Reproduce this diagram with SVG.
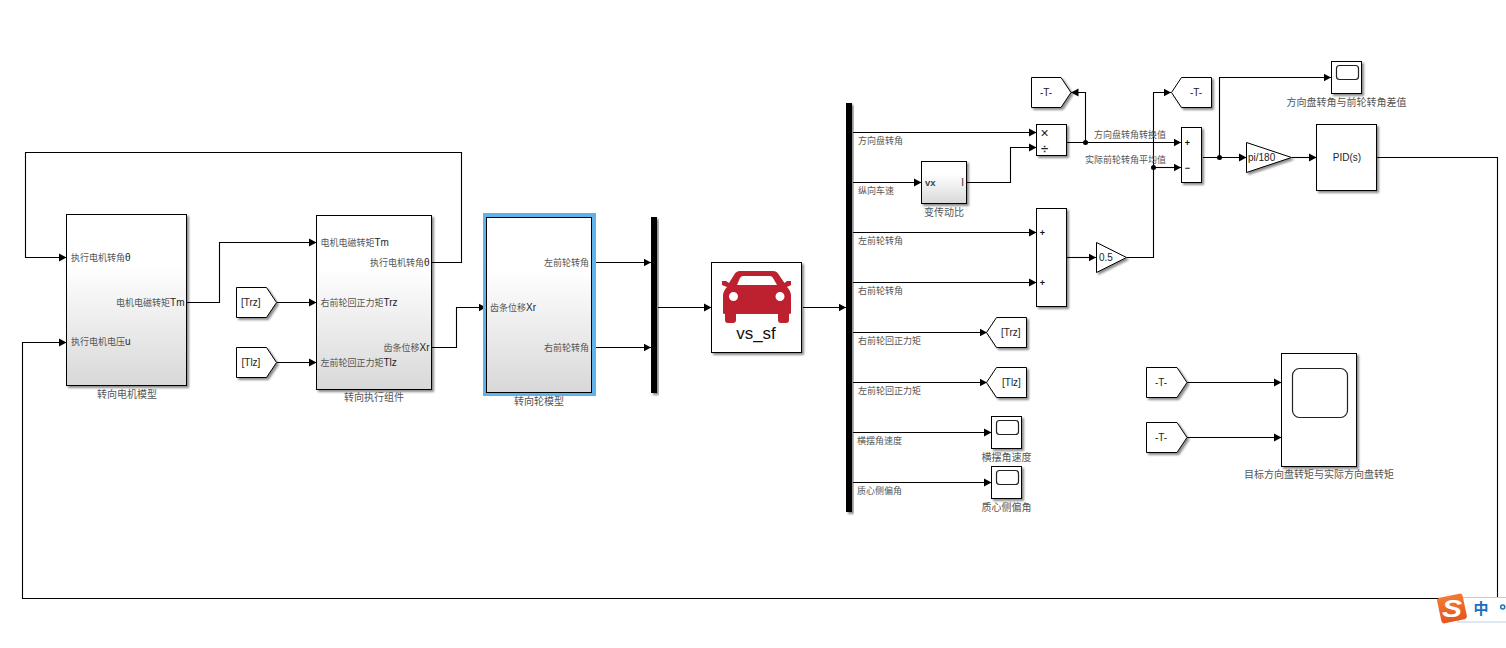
<svg xmlns="http://www.w3.org/2000/svg" width="1506" height="648" viewBox="0 0 1506 648">
<style>
text{font-family:"Liberation Sans","Noto Sans CJK SC",sans-serif;font-size:10px;fill:#555}
.p{font-size:9px}
.p tspan{fill:#222;font-size:10px}
.b{fill:#fff;stroke:#000;stroke-width:1;filter:url(#sh)}
.g{fill:url(#grad);stroke:#000;stroke-width:1;filter:url(#sh)}
.bar{fill:#000;filter:url(#sh)}
.w{fill:#222;font-size:10px}
.s{fill:#111;font-size:9px;font-weight:bold;text-anchor:middle}
.m{text-anchor:middle}
.e{text-anchor:end}
.in{fill:none;stroke:#222;stroke-width:1.2}
#wires path{fill:none;stroke:#000;stroke-width:1.1}
#wires path.a{marker-end:url(#ar)}
#wires circle{fill:#000}
</style>
<defs>
<linearGradient id="grad" x1="0" y1="0" x2="0" y2="1"><stop offset="0" stop-color="#fff"/><stop offset=".3" stop-color="#fff"/><stop offset="1" stop-color="#d8d8d8"/></linearGradient>
<linearGradient id="so" x1="0" y1="0" x2="0" y2="1"><stop offset="0" stop-color="#f37a35"/><stop offset="1" stop-color="#e4561f"/></linearGradient>
<filter id="sh" x="-20%" y="-20%" width="140%" height="140%"><feDropShadow dx="2" dy="2" stdDeviation="1.2" flood-color="#000" flood-opacity=".45"/></filter>
<marker id="ar" markerUnits="userSpaceOnUse" markerWidth="9" markerHeight="9" refX="7.500" refY="4.500" orient="auto"><path d="M0 .5L7.500 4.500L0 8.500Z" fill="#000"/></marker>
</defs>
<rect width="1506" height="648" fill="#fff"/>
<g id="wires">
<path class="a" d="M432 262.500H461.500V152.500H25.500V257.500H66.500"/>
<path class="a" d="M187 302.500H219.500V242.500H316.500"/>
<path class="a" d="M277 302.500H316.500"/>
<path class="a" d="M277 362.500H316.500"/>
<path class="a" d="M432 347.500H456.500V307.500H486"/>
<path class="a" d="M592 262.500H651"/>
<path class="a" d="M592 347.500H651"/>
<path class="a" d="M658 307.500H711.500"/>
<path class="a" d="M803 307.500H846"/>
<path class="a" d="M853 132.500H1036.500"/>
<path class="a" d="M853 182.500H921.500"/>
<path class="a" d="M967 182.500H1010.500V147.500H1036.500"/>
<path class="a" d="M853 232.500H1036.500"/>
<path class="a" d="M853 282.500H1036.500"/>
<path class="a" d="M1067 257.500H1096"/>
<path class="a" d="M1127 257.500H1153.500V92.500H1171"/>
<path class="a" d="M1153.500 167.500H1181"/>
<path class="a" d="M1067 142.500H1181"/>
<path class="a" d="M1085.500 142.500V92.500H1071"/>
<path class="a" d="M1203 157.500H1246.500"/>
<path class="a" d="M1219.500 157.500V77.500H1331"/>
<path class="a" d="M1292 157.500H1316.500"/>
<path class="a" d="M853 332.500H987"/>
<path class="a" d="M853 382.500H987"/>
<path class="a" d="M853 432.500H991.500"/>
<path class="a" d="M853 482.500H991.500"/>
<path class="a" d="M1187 382.500H1281.500"/>
<path class="a" d="M1187 437.500H1281.500"/>
<path class="a" d="M1377 157.500H1497.500V598.500H22.500V342.500H66.500"/>
<circle cx="1085.500" cy="142.500" r="2.500"/>
<circle cx="1153.500" cy="167.500" r="2.500"/>
<circle cx="1219.500" cy="157.500" r="2.500"/>
</g>
<g id="motor"><rect class="g" x="66.500" y="214.500" width="120" height="171"/>
<text class="p" x="71" y="260.500">执行电机转角<tspan>θ</tspan></text><text class="p e" x="184.500" y="305.500">电机电磁转矩<tspan>Tm</tspan></text><text class="p" x="71" y="344.500">执行电机电压<tspan>u</tspan></text><text x="127" y="397.500" class="m">转向电机模型</text></g>
<g id="actuator"><rect class="g" x="316.500" y="215.500" width="115" height="174"/>
<text class="p" x="320.500" y="245.500">电机电磁转矩<tspan>Tm</tspan></text><text class="p e" x="429.500" y="265.500">执行电机转角<tspan>θ</tspan></text><text class="p" x="320.500" y="305.500">右前轮回正力矩<tspan>Trz</tspan></text><text class="p e" x="429.500" y="350.500">齿条位移<tspan>Xr</tspan></text><text class="p" x="320.500" y="365.500">左前轮回正力矩<tspan>Tlz</tspan></text><text x="374" y="400.500" class="m">转向执行组件</text></g>
<g id="from-trz"><path class="b" d="M236.500 287.500H266.500L276.500 302.500L266.500 317.500H236.500Z"/><text class="w" x="241" y="306">[Trz]</text></g>
<g id="from-tlz"><path class="b" d="M236.500 347.500H266.500L276.500 362.500L266.500 377.500H236.500Z"/><text class="w" x="241.500" y="366">[Tlz]</text></g>
<g id="wheel"><rect x="483" y="213" width="113" height="183" fill="#5fb2ea"/><rect class="g" x="486.500" y="217.500" width="105" height="175" style="filter:none"/>
<text class="p e" x="589" y="265.500">左前轮转角</text><text class="p" x="490" y="310.500">齿条位移<tspan>Xr</tspan></text><text class="p e" x="589" y="350.500">右前轮转角</text><text x="539" y="404.500" class="m">转向轮模型</text></g>
<g id="mux"><rect class="bar" x="651" y="217" width="6" height="176"/></g>
<g id="vehicle"><rect class="b" x="711.500" y="262.500" width="90" height="90"/>
<path fill="#bd2130" fill-rule="evenodd" d="M740 271H773Q777 271 779 275L784.500 283L787 281H791V285L787 287Q791 291 791 296V313Q791 314 789 314V320Q789 323 786 323H781Q778 323 778 320V314H736V320Q736 323 733 323H728Q725 323 725 320V314Q723 314 723 313V296Q723 291 727 287L722 285V281H726L729 283L734 275Q736 271 740 271ZM743 276Q741 276 740 278L737 285H777L773 278Q772 276 770 276ZM733.500 292A4.500 4.500 0 1 0 733.500 301A4.500 4.500 0 1 0 733.500 292ZM780 292A4.500 4.500 0 1 0 780 301A4.500 4.500 0 1 0 780 292Z"/>
<text x="756" y="339" class="m" style="font-size:17px;fill:#111">vs_sf</text></g>
<g id="demux"><rect class="bar" x="846" y="103" width="6" height="409"/>
<text class="p" x="858" y="143.500">方向盘转角</text><text class="p" x="858" y="193.500">纵向车速</text><text class="p" x="858" y="243.500">左前轮转角</text><text class="p" x="858" y="293.500">右前轮转角</text><text class="p" x="858" y="343.500">右前轮回正力矩</text><text class="p" x="858" y="393.500">左前轮回正力矩</text><text class="p" x="857" y="443.500">横摆角速度</text><text class="p" x="857" y="493.500">质心侧偏角</text>
<text class="p" x="1094" y="137.500">方向盘转角转换值</text><text class="p" x="1085" y="162.500">实际前轮转角平均值</text></g>
<g id="goto-top"><path class="b" d="M1031.500 77.500H1061L1071 92.500L1061 107.500H1031.500Z"/><text class="w m" x="1046" y="96">-T-</text></g>
<g id="product"><rect class="b" x="1036.500" y="124.500" width="30" height="31"/><text class="w m" x="1044.500" y="137.500" style="font-size:14px">×</text><text class="w m" x="1044.500" y="152.500" style="font-size:13px;font-weight:bold">÷</text></g>
<g id="ratio"><rect class="g" x="921.500" y="161.500" width="45" height="42"/><text class="w" x="925" y="185.500" style="font-size:9.500px;font-weight:bold;fill:#444">vx</text><text class="w" x="961.500" y="185.500">l</text><text x="944" y="215.500" class="m">变传动比</text></g>
<g id="sum-front"><rect class="b" x="1036.500" y="208.500" width="30" height="98"/><text class="s" x="1042.500" y="235.500">+</text><text class="s" x="1042.500" y="285.500">+</text></g>
<g id="gain-half"><path class="b" d="M1096.500 242.500L1126.500 257.500L1096.500 272.500Z"/><text class="w" x="1099" y="261">0.5</text></g>
<g id="from-top"><path class="b" d="M1171.500 92.500L1181.500 77.500H1211.500V107.500H1181.500Z"/><text class="w m" x="1196" y="96">-T-</text></g>
<g id="sum-diff"><rect class="b" x="1181.500" y="127.500" width="20" height="55"/><text class="s" x="1187.500" y="145.500">+</text><text class="s" x="1187.500" y="170.500">−</text></g>
<g id="scope-diff"><rect class="b" x="1331.500" y="61.500" width="30" height="32"/><rect class="in" x="1336.500" y="65.500" width="22" height="14" rx="3"/><text x="1346.500" y="105.500" class="m">方向盘转角与前轮转角差值</text></g>
<g id="gain-deg"><path class="b" d="M1246.500 142.500L1291.500 157.500L1246.500 172.500Z"/><text class="w" x="1248" y="161">pi/180</text></g>
<g id="pid"><rect class="b" x="1316.500" y="124.500" width="60" height="66"/><text class="w m" x="1347" y="161">PID(s)</text></g>
<g id="goto-trz"><path class="b" d="M986.500 332.500L996.500 317.500H1026.500V347.500H996.500Z"/><text class="w" x="1001" y="336">[Trz]</text></g>
<g id="goto-tlz"><path class="b" d="M986.500 382.500L996.500 367.500H1026.500V397.500H996.500Z"/><text class="w" x="1002" y="386">[Tlz]</text></g>
<g id="scope-yaw"><rect class="b" x="991.500" y="416.500" width="30" height="32"/><rect class="in" x="996.500" y="420.500" width="22" height="14" rx="3"/><text x="1006.500" y="460.500" class="m">横摆角速度</text></g>
<g id="scope-slip"><rect class="b" x="991.500" y="466.500" width="30" height="32"/><rect class="in" x="996.500" y="470.500" width="22" height="14" rx="3"/><text x="1006.500" y="510.500" class="m">质心侧偏角</text></g>
<g id="from-t1"><path class="b" d="M1146.500 367.500H1177L1187 382.500L1177 397.500H1146.500Z"/><text class="w m" x="1161" y="386">-T-</text></g>
<g id="from-t2"><path class="b" d="M1146.500 422.500H1177L1187 437.500L1177 452.500H1146.500Z"/><text class="w m" x="1161" y="441">-T-</text></g>
<g id="scope-torque"><rect class="b" x="1281.500" y="353.500" width="75" height="113"/><rect class="in" x="1292.500" y="368.500" width="55" height="49" rx="7"/><text x="1319" y="477.500" class="m">目标方向盘转矩与实际方向盘转矩</text></g>
<g id="ime"><rect x="1458" y="597.500" width="50" height="24.500" fill="#fff" stroke="#b9d0e6"/>
<rect x="1439" y="595.500" width="26" height="26" rx="3" fill="url(#so)" transform="rotate(-12 1452 608.500)"/>
<text x="0" y="0" class="m" transform="translate(1452 617) scale(1.250 1)" style="font-size:24px;font-weight:bold;font-style:italic;fill:#fff">S</text>
<text x="1481" y="614" class="m" style="font-size:15px;font-weight:bold;fill:#1a6fc0">中</text>
<circle cx="1502.700" cy="607" r="2" fill="#fff" stroke="#1a6fc0" stroke-width="1.500"/></g>
</svg>
